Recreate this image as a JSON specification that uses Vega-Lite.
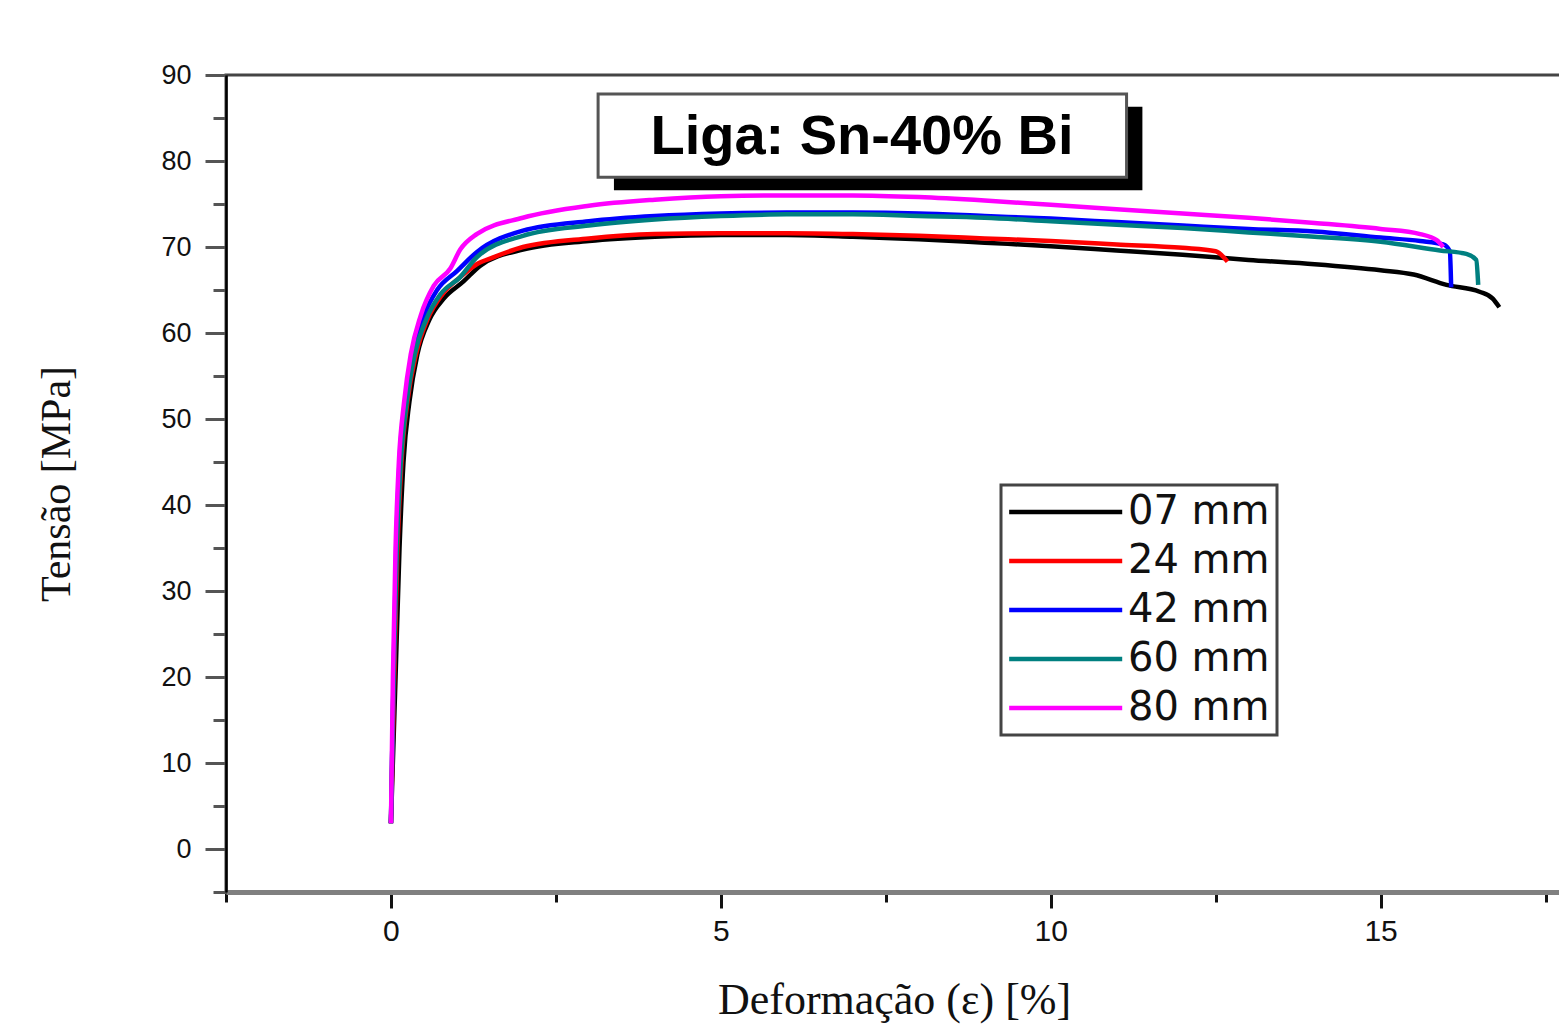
{
  "$schema": "https://vega.github.io/schema/vega-lite/v6.json",
  "width": 1336,
  "height": 817,
  "autosize": {"type": "none"},
  "padding": {"left": 226, "top": 75, "right": 0, "bottom": 138},
  "background": "white",
  "config": {
    "view": {"stroke": "#444444", "strokeWidth": 3},
    "axis": {"grid": false, "labelFont": "Liberation Sans", "titleFont": "Liberation Serif", "titleFontWeight": "normal", "labelColor": "#111111", "titleColor": "#111111"}
  },
  "data": {"values": [
    {"d":"07 mm","x":0,"y":3},{"d":"07 mm","x":0.07,"y":20},{"d":"07 mm","x":0.13,"y":35},{"d":"07 mm","x":0.19,"y":45},{"d":"07 mm","x":0.28,"y":52},{"d":"07 mm","x":0.4,"y":57.5},{"d":"07 mm","x":0.58,"y":61.5},{"d":"07 mm","x":0.8,"y":64},{"d":"07 mm","x":1.1,"y":66},{"d":"07 mm","x":1.35,"y":67.8},{"d":"07 mm","x":2,"y":69.7},{"d":"07 mm","x":3,"y":70.7},{"d":"07 mm","x":4,"y":71.2},{"d":"07 mm","x":5,"y":71.4},{"d":"07 mm","x":6,"y":71.4},{"d":"07 mm","x":7,"y":71.2},{"d":"07 mm","x":8,"y":70.9},{"d":"07 mm","x":9,"y":70.5},{"d":"07 mm","x":10,"y":70.1},{"d":"07 mm","x":11,"y":69.6},{"d":"07 mm","x":12,"y":69.1},{"d":"07 mm","x":13,"y":68.5},{"d":"07 mm","x":14,"y":68},{"d":"07 mm","x":15,"y":67.3},{"d":"07 mm","x":15.5,"y":66.8},{"d":"07 mm","x":16,"y":65.6},{"d":"07 mm","x":16.5,"y":64.8},{"d":"07 mm","x":16.7,"y":64},{"d":"07 mm","x":16.8,"y":63},
    {"d":"24 mm","x":0,"y":3},{"d":"24 mm","x":0.05,"y":20},{"d":"24 mm","x":0.1,"y":35},{"d":"24 mm","x":0.16,"y":45},{"d":"24 mm","x":0.25,"y":52},{"d":"24 mm","x":0.38,"y":57.5},{"d":"24 mm","x":0.55,"y":61.5},{"d":"24 mm","x":0.78,"y":64.5},{"d":"24 mm","x":1.05,"y":66.5},{"d":"24 mm","x":1.3,"y":68},{"d":"24 mm","x":1.55,"y":68.8},{"d":"24 mm","x":2,"y":70},{"d":"24 mm","x":3,"y":71},{"d":"24 mm","x":4,"y":71.5},{"d":"24 mm","x":5,"y":71.6},{"d":"24 mm","x":6,"y":71.6},{"d":"24 mm","x":7,"y":71.5},{"d":"24 mm","x":8,"y":71.3},{"d":"24 mm","x":9,"y":71},{"d":"24 mm","x":10,"y":70.7},{"d":"24 mm","x":11,"y":70.3},{"d":"24 mm","x":12,"y":69.9},{"d":"24 mm","x":12.5,"y":69.5},{"d":"24 mm","x":12.68,"y":68.3},
    {"d":"42 mm","x":0,"y":3},{"d":"42 mm","x":0.04,"y":20},{"d":"42 mm","x":0.08,"y":35},{"d":"42 mm","x":0.13,"y":45},{"d":"42 mm","x":0.22,"y":52},{"d":"42 mm","x":0.33,"y":57.5},{"d":"42 mm","x":0.5,"y":62},{"d":"42 mm","x":0.7,"y":65},{"d":"42 mm","x":1,"y":67.2},{"d":"42 mm","x":1.3,"y":69.4},{"d":"42 mm","x":2,"y":71.9},{"d":"42 mm","x":3,"y":73},{"d":"42 mm","x":4,"y":73.6},{"d":"42 mm","x":5,"y":73.9},{"d":"42 mm","x":6,"y":74},{"d":"42 mm","x":7,"y":74},{"d":"42 mm","x":8,"y":73.9},{"d":"42 mm","x":9,"y":73.6},{"d":"42 mm","x":10,"y":73.3},{"d":"42 mm","x":11,"y":72.9},{"d":"42 mm","x":12,"y":72.5},{"d":"42 mm","x":13,"y":72.1},{"d":"42 mm","x":14,"y":71.8},{"d":"42 mm","x":15,"y":71.1},{"d":"42 mm","x":15.6,"y":70.7},{"d":"42 mm","x":15.95,"y":70.3},{"d":"42 mm","x":16.05,"y":69.5},{"d":"42 mm","x":16.07,"y":65.3},
    {"d":"60 mm","x":0,"y":3},{"d":"60 mm","x":0.04,"y":20},{"d":"60 mm","x":0.09,"y":35},{"d":"60 mm","x":0.15,"y":45},{"d":"60 mm","x":0.24,"y":52},{"d":"60 mm","x":0.36,"y":57.5},{"d":"60 mm","x":0.53,"y":61.5},{"d":"60 mm","x":0.75,"y":64.5},{"d":"60 mm","x":1.05,"y":66.5},{"d":"60 mm","x":1.3,"y":68.8},{"d":"60 mm","x":2,"y":71.3},{"d":"60 mm","x":3,"y":72.5},{"d":"60 mm","x":4,"y":73.2},{"d":"60 mm","x":5,"y":73.6},{"d":"60 mm","x":6,"y":73.8},{"d":"60 mm","x":7,"y":73.8},{"d":"60 mm","x":8,"y":73.6},{"d":"60 mm","x":9,"y":73.4},{"d":"60 mm","x":10,"y":73},{"d":"60 mm","x":11,"y":72.6},{"d":"60 mm","x":12,"y":72.2},{"d":"60 mm","x":13,"y":71.7},{"d":"60 mm","x":14,"y":71.2},{"d":"60 mm","x":15,"y":70.6},{"d":"60 mm","x":15.9,"y":69.6},{"d":"60 mm","x":16.3,"y":69.2},{"d":"60 mm","x":16.45,"y":68.5},{"d":"60 mm","x":16.48,"y":65.6},
    {"d":"80 mm","x":0,"y":3},{"d":"80 mm","x":0.03,"y":20},{"d":"80 mm","x":0.07,"y":35},{"d":"80 mm","x":0.12,"y":45},{"d":"80 mm","x":0.2,"y":52},{"d":"80 mm","x":0.3,"y":57.5},{"d":"80 mm","x":0.45,"y":62},{"d":"80 mm","x":0.65,"y":65.5},{"d":"80 mm","x":0.9,"y":67.5},{"d":"80 mm","x":1.05,"y":69.7},{"d":"80 mm","x":1.3,"y":71.5},{"d":"80 mm","x":2,"y":73.4},{"d":"80 mm","x":3,"y":74.8},{"d":"80 mm","x":4,"y":75.5},{"d":"80 mm","x":5,"y":75.9},{"d":"80 mm","x":6,"y":76},{"d":"80 mm","x":7,"y":76},{"d":"80 mm","x":8,"y":75.8},{"d":"80 mm","x":9,"y":75.4},{"d":"80 mm","x":10,"y":74.9},{"d":"80 mm","x":11,"y":74.4},{"d":"80 mm","x":12,"y":73.9},{"d":"80 mm","x":13,"y":73.4},{"d":"80 mm","x":14,"y":72.8},{"d":"80 mm","x":15,"y":72.1},{"d":"80 mm","x":15.6,"y":71.5},{"d":"80 mm","x":15.85,"y":70.8},{"d":"80 mm","x":15.95,"y":70}
  ]},
  "layer": [
    {
      "mark": {"type": "line", "strokeWidth": 4.5, "clip": true, "interpolate": "monotone"},
      "encoding": {
        "x": {"field": "x", "type": "quantitative", "scale": {"domain": [-2.5, 17.75], "nice": false, "zero": false},
          "axis": {"title": "Deformação (ε) [%]", "titleFontSize": 44, "titlePadding": 32,
            "values": [-2.5, 0, 2.5, 5, 7.5, 10, 12.5, 15, 17.5], "format": "d",
            "labelExpr": "datum.value % 5 === 0 ? datum.label : ''",
            "labelFontSize": 30, "labelPadding": 8,
            "domainColor": "#808080", "domainWidth": 5,
            "tickColor": "#111111", "tickWidth": 3,
            "tickSize": {"condition": {"test": "datum.value % 5 === 0", "value": 16}, "value": 10}}},
        "y": {"field": "y", "type": "quantitative", "scale": {"domain": [-5, 90], "nice": false, "zero": false},
          "axis": {"title": "Tensão [MPa]", "titleFontSize": 42, "titlePadding": 82,
            "values": [-5, 0, 5, 10, 15, 20, 25, 30, 35, 40, 45, 50, 55, 60, 65, 70, 75, 80, 85, 90],
            "labelExpr": "datum.value % 10 === 0 ? datum.label : ''",
            "labelFontSize": 27, "labelPadding": 14,
            "domainColor": "#000000", "domainWidth": 2.5,
            "tickColor": "#555555", "tickWidth": 3,
            "tickSize": {"condition": {"test": "datum.value % 10 === 0", "value": 21}, "value": 13}}},
        "color": {"field": "d", "type": "nominal",
          "scale": {"domain": ["07 mm", "24 mm", "42 mm", "60 mm", "80 mm"], "range": ["#000000", "#ff0000", "#0000ff", "#008080", "#ff00ff"]},
          "legend": {"title": null, "orient": "none", "legendX": 775, "legendY": 410,
            "symbolType": "M-2,0H10", "symbolSize": 355, "symbolStrokeWidth": 4.5,
            "labelFont": "DejaVu Sans", "labelFontSize": 40, "labelColor": "#111111", "labelOffset": 80,
            "rowPadding": 9, "padding": 7, "strokeColor": "#444444", "fillColor": "white",
            "encode": {"legend": {"update": {"strokeWidth": {"value": 3}}}}}}
      }
    },
    {
      "data": {"values": [{}]},
      "mark": {"type": "rect", "fill": "black"},
      "encoding": {"x": {"datum": 3.38}, "x2": {"datum": 11.39}, "y": {"datum": 76.6}, "y2": {"datum": 86.3}}
    },
    {
      "data": {"values": [{}]},
      "mark": {"type": "rect", "fill": "white", "stroke": "#555555", "strokeWidth": 3},
      "encoding": {"x": {"datum": 3.14}, "x2": {"datum": 11.15}, "y": {"datum": 78.1}, "y2": {"datum": 87.8}}
    },
    {
      "data": {"values": [{}]},
      "mark": {"type": "text", "text": "Liga: Sn-40% Bi", "font": "Liberation Sans", "fontWeight": "bold", "fontSize": 56, "color": "#000000", "align": "center", "baseline": "middle"},
      "encoding": {"x": {"datum": 7.14}, "y": {"datum": 82.8}}
    }
  ]
}
